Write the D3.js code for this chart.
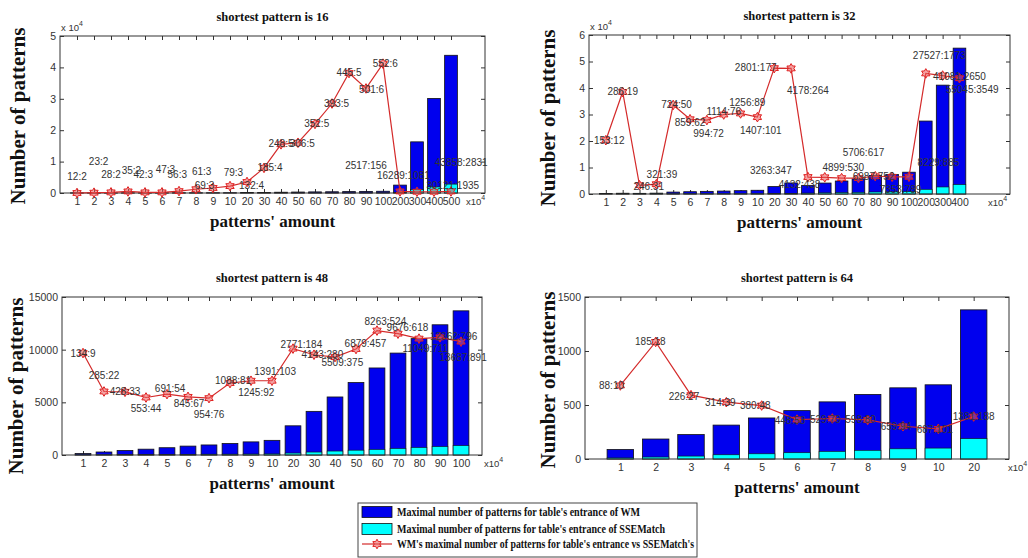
<!DOCTYPE html>
<html>
<head>
<meta charset="utf-8">
<script src="https://cdn.jsdelivr.net/npm/d3@7"></script>
<style>
	body { margin: 0; background: #fff; }
	svg { display: block; }
	.tick text { font-family: "Liberation Sans", Arial, sans-serif; font-size: 10.5px; fill: #333; }
	.tick line { stroke: #333; }
	.serif { font-family: "Liberation Serif", "Times New Roman", serif; font-weight: bold; fill: #111; }
	.dlabel { font-family: "Liberation Sans", Arial, sans-serif; font-size: 10px; fill: #333; }
	.mult { font-family: "Liberation Sans", Arial, sans-serif; font-size: 9.5px; fill: #333; }
</style>
</head>
<body>
<div id="chart"></div>
<script>
// four panels of WM vs SSEMatch table entrance sizes

// shortest pattern is 16
const cats16 = ['1','2','3','4','5','6','7','8','9','10','20','30','40','50','60','70','80','90','100','200','300','400','500'];
const wm16 = [12,23,28,35,42,47,56,61,69,79,132,185,248,306,352,393,445,501,552,2517,16289,30121,43858];
const sse16 = [2,2,2,2,3,3,3,3,3,3,4,4,5,5,5,5,5,6,6,156,1081,1935,2831];
const ratio16 = [0,100,200,500,200,200,600,1200,1600,2200,3500,8000,15500,16000,22000,28500,38200,33300,41200,500,400,400,500];
const labY16 = [5200,10000,6000,7300,6000,7500,6000,6800,2400,6600,2500,8000,15700,15700,22000,28500,38300,33000,41200,8900,5700,2300,9700];
const labDx16 = [0,0.27,0,0.2,-0.1,0.2,-0.1,0.33,-0.5,0.2,0.27,0.35,0,0.25,0.1,0.27,0,0.33,0.14,-2.0,-0.8,1.1,0.6];

// shortest pattern is 32
const cats32 = ['1','2','3','4','5','6','7','8','9','10','20','30','40','50','60','70','80','90','100','200','300','400'];
const wm32 = [153,286,246,321,724,859,994,1114,1256,1407,2801,4178,3263,4132,4899,5706,6987,7353,8229,27527,41081,55045];
const sse32 = [12,19,31,39,50,62,72,76,89,101,177,264,347,438,530,617,752,789,885,1773,2650,3549];
const ratio32 = [20300,38500,3300,3700,33600,28200,27900,30000,30400,29000,47500,47400,6400,6300,6000,6000,6700,6500,6500,45500,44700,43700];
const labY32 = [20300,38500,3000,7300,33600,27000,22800,31000,34700,24000,47700,39000,9000,3500,10000,15500,6500,1600,11700,52200,44300,39300];
const labDx32 = [0.2,0,0.55,0.33,0.2,0,0.1,0,0.4,0.2,-1.1,1.0,-2.2,-1.5,0.1,0.3,-0.1,0.5,1.75,0.8,1.0,0.75];

// shortest pattern is 48
const cats48 = ['1','2','3','4','5','6','7','8','9','10','20','30','40','50','60','70','80','90','100'];
const wm48 = [134,285,428,553,691,845,954,1088,1245,1391,2771,4143,5509,6879,8263,9676,11049,12362,13687];
const sse48 = [9,22,33,44,54,67,76,81,92,103,184,280,375,457,524,618,711,796,891];
const ratio48 = [9680,6030,6000,5460,5780,5520,5400,6830,7050,7050,10100,9520,9300,10060,11810,11520,11050,11170,10760];
const labY48 = [9680,7590,6030,4410,6290,4920,3810,7050,5940,7940,10480,9520,8790,10540,12700,12130,10100,11270,9300];
const labDx48 = [0,0,0,0,0.15,0.05,0,0.15,0.25,0.15,0.4,0.4,0.35,0.45,0.4,0.45,0.3,0.65,0.1];

// shortest pattern is 64
const cats64 = ['1','2','3','4','5','6','7','8','9','10','20'];
const wm64 = [88,185,226,314,380,448,529,598,659,687,1381];
const sse64 = [10,18,27,39,48,58,70,80,94,101,188];
const ratio64 = [681,1084,591,526,495,365,375,362,303,279,393];
const labY64 = [681,1084,582,520,495,359,362,362,297,272,396];
const labDx64 = [-0.25,-0.15,-0.2,-0.17,-0.18,-0.2,-0.2,-0.2,-0.2,-0.1,0];

const legendTexts = [
	"Maximal number of patterns for table's entrance of WM",
	"Maximal number of patterns for table's entrance of SSEMatch",
	"WM's maximal number of patterns for table's entrance vs SSEMatch's"
];

const W = 1028, H = 558;
const BLUE = '#0000ee', CYAN = '#00ffff', RED = '#d42a2a';

const panels = [
	{ title: 'shortest pattern is 16', cats: cats16, wm: wm16, sse: sse16, ratio: ratio16, labY: labY16, labDx: labDx16,
	  box: {l: 60, r: 485, t: 36, b: 193}, xMax: 25, yMax: 50000, yStep: 10000, exp: true, ylabX: 25, ylabY: 116, expX: 466 },
	{ title: 'shortest pattern is 32', cats: cats32, wm: wm32, sse: sse32, ratio: ratio32, labY: labY32, labDx: labDx32,
	  box: {l: 589, r: 1010, t: 35, b: 194}, xMax: 25, yMax: 60000, yStep: 10000, exp: true, ylabX: 555, ylabY: 118, expX: 988 },
	{ title: 'shortest pattern is 48', cats: cats48, wm: wm48, sse: sse48, ratio: ratio48, labY: labY48, labDx: labDx48,
	  box: {l: 62, r: 482, t: 297, b: 455}, xMax: 20, yMax: 15000, yStep: 5000, exp: false, ylabX: 23, ylabY: 386, expX: 484 },
	{ title: 'shortest pattern is 64', cats: cats64, wm: wm64, sse: sse64, ratio: ratio64, labY: labY64, labDx: labDx64,
	  box: {l: 585, r: 1009, t: 297, b: 459}, xMax: 12, yMax: 1500, yStep: 500, exp: false, ylabX: 555, ylabY: 380, expX: 1008 }
];

const svg = d3.select('#chart').append('svg').attr('width', W).attr('height', H);

// MATLAB style hexagram marker
function hexagram(r) {
	const pts = [];
	for (let k = 0; k < 12; k++) {
		const a = Math.PI / 2 + k * Math.PI / 6;
		const rr = k % 2 === 0 ? r : r / Math.sqrt(3);
		pts.push([rr * Math.cos(a), -rr * Math.sin(a)]);
	}
	return 'M' + pts.map(p => p[0].toFixed(2) + ',' + p[1].toFixed(2)).join('L') + 'Z';
}
const markerPath = hexagram(4.8);

function drawPanel(p) {
	const b = p.box;
	const x = d3.scaleLinear().domain([0, p.xMax]).range([b.l, b.r]);
	const y = d3.scaleLinear().domain([0, p.yMax]).range([b.b, b.t]);
	const idx = d3.range(1, p.cats.length + 1);
	const yTicks = d3.range(0, p.yMax + 1, p.yStep);
	const bw = (x(1) - x(0)) * 0.75;
	const g = svg.append('g');

	// axes (ticks inward, like matlab)
	const fmtY = p.exp ? (d => d / 10000) : (d => d);
	g.append('g').attr('transform', 'translate(0,' + b.b + ')')
		.call(d3.axisBottom(x).tickValues(idx).tickFormat(i => p.cats[i - 1]).tickSize(-4).tickSizeOuter(0).tickPadding(5))
		.call(a => a.select('.domain').remove());
	g.append('g').attr('transform', 'translate(0,' + b.t + ')')
		.call(d3.axisTop(x).tickValues(idx).tickFormat('').tickSize(-4).tickSizeOuter(0))
		.call(a => a.select('.domain').remove());
	g.append('g').attr('transform', 'translate(' + b.l + ',0)')
		.call(d3.axisLeft(y).tickValues(yTicks).tickFormat(fmtY).tickSize(-4).tickSizeOuter(0).tickPadding(4))
		.call(a => a.select('.domain').remove());
	g.append('g').attr('transform', 'translate(' + b.r + ',0)')
		.call(d3.axisRight(y).tickValues(yTicks).tickFormat('').tickSize(-4).tickSizeOuter(0))
		.call(a => a.select('.domain').remove());

	// bars: WM first, SSEMatch on top
	g.selectAll('rect.wm').data(p.wm).join('rect').attr('class', 'wm')
		.attr('x', (d, i) => x(i + 1) - bw / 2).attr('y', d => y(d))
		.attr('width', bw).attr('height', d => y(0) - y(d))
		.attr('fill', BLUE).attr('stroke', '#111').attr('stroke-width', 0.8);
	g.selectAll('rect.sse').data(p.sse).join('rect').attr('class', 'sse')
		.attr('x', (d, i) => x(i + 1) - bw / 2).attr('y', d => y(d))
		.attr('width', bw).attr('height', d => y(0) - y(d))
		.attr('fill', CYAN).attr('stroke', '#111').attr('stroke-width', 0.6);

	// frame
	g.append('rect').attr('x', b.l).attr('y', b.t).attr('width', b.r - b.l).attr('height', b.b - b.t)
		.attr('fill', 'none').attr('stroke', '#333').attr('stroke-width', 1);

	// ratio line + markers
	const line = d3.line().x((d, i) => x(i + 1)).y(d => y(d));
	g.append('path').datum(p.ratio).attr('d', line)
		.attr('fill', 'none').attr('stroke', RED).attr('stroke-width', 1.2);
	g.selectAll('path.mk').data(p.ratio).join('path').attr('class', 'mk')
		.attr('d', markerPath)
		.attr('transform', (d, i) => 'translate(' + x(i + 1) + ',' + y(d) + ')')
		.attr('fill', 'rgba(235,90,90,0.55)').attr('stroke', '#e02020').attr('stroke-width', 1);

	// WM:SSE labels
	g.selectAll('text.dlabel').data(p.wm).join('text').attr('class', 'dlabel')
		.attr('x', (d, i) => x(i + 1 + p.labDx[i]))
		.attr('y', (d, i) => y(p.labY[i]))
		.attr('dy', '0.35em').attr('text-anchor', 'middle')
		.text((d, i) => d + ':' + p.sse[i]);

	// titles and axis labels
	const cx = (b.l + b.r) / 2;
	g.append('text').attr('class', 'serif').attr('x', cx).attr('y', b.t - 15)
		.attr('text-anchor', 'middle').style('font-size', '12.5px').text(p.title);
	g.append('text').attr('class', 'serif').attr('x', cx).attr('y', b.b + 34)
		.attr('text-anchor', 'middle').style('font-size', '17px').text("patterns' amount");
	g.append('text').attr('class', 'serif')
		.attr('transform', 'translate(' + p.ylabX + ',' + p.ylabY + ') rotate(-90)')
		.attr('text-anchor', 'middle').style('font-size', '21px').text('Number of patterns');

	// x10^4 multipliers
	const xm = g.append('text').attr('class', 'mult').attr('x', p.expX).attr('y', b.b + 12);
	xm.append('tspan').text('x10');
	xm.append('tspan').attr('dy', -5).style('font-size', '7px').text('4');
	if (p.exp) {
		const ym = g.append('text').attr('class', 'mult').attr('x', b.l + 1).attr('y', b.t - 5);
		ym.append('tspan').text('x 10');
		ym.append('tspan').attr('dy', -5).style('font-size', '7px').text('4');
	}
}

panels.forEach(drawPanel);

// legend
const lg = svg.append('g').attr('transform', 'translate(358,503)');
lg.append('rect').attr('width', 339).attr('height', 54).attr('fill', '#fff').attr('stroke', '#444');
const rowY = [9, 26, 41];
const lens = [243, 268, 297];
lg.append('rect').attr('x', 4).attr('y', rowY[0] - 5.5).attr('width', 30).attr('height', 11)
	.attr('fill', BLUE).attr('stroke', '#111').attr('stroke-width', 0.8);
lg.append('rect').attr('x', 4).attr('y', rowY[1] - 5.5).attr('width', 30).attr('height', 11)
	.attr('fill', CYAN).attr('stroke', '#111').attr('stroke-width', 0.8);
lg.append('line').attr('x1', 4).attr('x2', 34).attr('y1', rowY[2]).attr('y2', rowY[2])
	.attr('stroke', RED).attr('stroke-width', 1.2);
lg.append('path').attr('d', markerPath).attr('transform', 'translate(19,' + rowY[2] + ')')
	.attr('fill', 'rgba(235,90,90,0.55)').attr('stroke', '#e02020');
legendTexts.forEach((t, i) => {
	lg.append('text').attr('class', 'serif').attr('x', 39).attr('y', rowY[i]).attr('dy', '0.35em')
		.style('font-size', '11.5px').attr('textLength', lens[i]).attr('lengthAdjust', 'spacingAndGlyphs')
		.text(t);
});
</script>
</body>
</html>
